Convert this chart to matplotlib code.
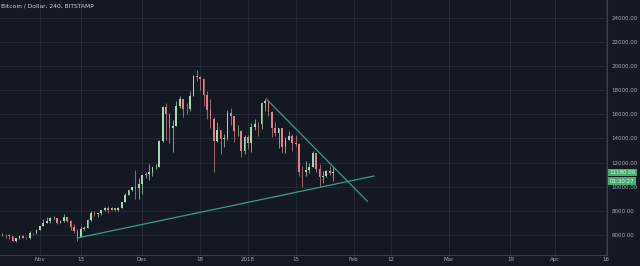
import matplotlib
matplotlib.use("Agg")
import matplotlib.pyplot as plt
import matplotlib.dates as mdates
from matplotlib.transforms import blended_transform_factory
import pandas as pd

# daily candles (Bitstamp BTC/USD)
dates = pd.date_range("2017-10-20", "2018-01-26", freq="D")
first_open = 5700
highs = [6070, 6190, 6060, 6070, 5910, 5770, 5970, 6000, 5860, 6300, 6200, 6470,
         6770, 7330, 7460, 7500, 7600, 7420, 7210, 7780, 7470, 7280, 6870, 6480,
         6740, 6720, 7330, 7970, 8000, 7860, 8100, 8300, 8370, 8300, 8260, 8350,
         8770, 9500, 9740, 10000, 11400, 10700,
         11000, 11200, 11850, 11620, 11900, 13850, 16700, 16950, 16100, 15500,
         17100, 17500, 17300, 16950, 17900, 19250, 19670, 19180, 19000, 17900,
         17300, 15800, 15400, 14700, 14400, 16400, 16500, 15850, 15150, 14700, 14300,
         14300, 15300, 15600, 15400, 17000, 17250, 17150, 16300, 15400, 14900,
         14900, 14100, 14600, 14400, 14300, 13600, 11700, 12100, 12000, 12950,
         12800, 11900, 11300, 11400, 11700, 11600]
lows = [5610, 5880, 5720, 5650, 5460, 5400, 5700, 5710, 5680, 5680, 6030, 6100,
        6380, 6730, 7000, 6990, 7300, 6950, 6960, 7060, 7070, 6450, 6180, 5500,
        5850, 6420, 6600, 7120, 7560, 7470, 7670, 7960, 7820, 8070, 8000, 8000,
        8200, 8740, 9300, 9650, 9000, 9000,
        9400, 10700, 10550, 10900, 11500, 11660, 13700, 13900, 13600, 12900,
        15000, 16500, 15800, 16000, 16300, 17500, 18800, 18000, 16700, 15600,
        14900, 11200, 13700, 12700, 13300, 13900, 15100, 13700, 14200, 12500, 12700,
        13100, 12900, 14700, 14200, 14800, 16300, 15900, 14100, 14200, 13200,
        12800, 12800, 13900, 13000, 13400, 10900, 10000, 10900, 11100, 11600,
        11200, 10100, 10300, 10800, 11000, 10500]
closes = [6010, 6010, 5980, 5900, 5520, 5740, 5890, 5770, 5720, 6150, 6130, 6450,
          6740, 7030, 7160, 7380, 7390, 6990, 7140, 7460, 7140, 6620, 6340, 5870,
          6530, 6600, 7280, 7840, 7700, 7790, 8040, 8200, 8070, 8250, 8090, 8250,
          8750, 9300, 9730, 9950, 9880, 10230,
          10970, 11090, 11240, 11610, 11660, 13750, 16600, 16000, 14840, 15060,
          16730, 17280, 16470, 16410, 17530, 19140, 19110, 18970, 17600, 16400,
          15630, 13830, 14700, 13920, 14030, 16100, 15840, 14600, 14650, 12950, 14160,
          13660, 14980, 15200, 15160, 16950, 17130, 16170, 14850, 14470, 14850,
          13300, 13900, 14200, 13600, 13540, 11250, 11200, 11400, 11600, 12800,
          11500, 10800, 10900, 11300, 11160, 11180]
opens = [first_open] + closes[:-1]

# drawn trend lines
support_dates = ["2017-11-12 00:00", "2018-02-07 00:00"]
support_prices = [5750, 10890]
resist_dates = ["2018-01-06 10:00", "2018-02-05 00:00"]
resist_prices = [17270, 8800]

price_ticks = [6000, 8000, 10000, 12000, 14000, 16000, 18000, 20000, 22000, 24000]
time_ticks = ["2017-11-01", "2017-11-13", "2017-12-01", "2017-12-18", "2018-01-01",
              "2018-01-15", "2018-02-01", "2018-02-12", "2018-03-01", "2018-03-19",
              "2018-04-01", "2018-04-16"]
time_labels = ["Nov", "13", "Dec", "18", "2018", "15", "Feb", "12", "Mar", "19", "Apr", "16"]

BG = "#141823"
UP = "#a3d8b0"
DOWN = "#e08389"
LINE = "#3b9c8c"
TXT = "#a9acb5"

fig = plt.figure(figsize=(6.4, 2.66), dpi=100)
fig.patch.set_facecolor(BG)
ax = fig.add_axes([0, 11 / 266, 607 / 640, 255 / 266])
ax.set_facecolor(BG)

xs = mdates.date2num(dates)
for x, o, h, l, c in zip(xs, opens, highs, lows, closes):
    col = UP if c >= o else DOWN
    ax.vlines(x, l, h, color=col, linewidth=0.5, zorder=3)
    ax.bar(x, abs(c - o) if c != o else 20, bottom=min(o, c), width=0.5,
           color=col, edgecolor="none", zorder=4)

ax.plot(mdates.date2num(pd.to_datetime(support_dates)), support_prices,
        color=LINE, linewidth=0.9, zorder=5)
ax.plot(mdates.date2num(pd.to_datetime(resist_dates)), resist_prices,
        color=LINE, linewidth=0.9, zorder=5)

nov1 = mdates.date2num(pd.Timestamp("2017-11-01"))
ax.set_xlim(nov1 - 11.7, nov1 + 166.3)
ax.set_ylim(4340, 25480)

ax.set_xticks(mdates.date2num(pd.to_datetime(time_ticks)))
ax.set_xticklabels(time_labels)
ax.yaxis.tick_right()
ax.set_yticks(price_ticks)
ax.set_yticklabels([f"{p:.2f}" for p in price_ticks])
ax.tick_params(axis="both", length=0, labelsize=4, colors=TXT)
ax.tick_params(axis="x", pad=1.5)
ax.tick_params(axis="y", pad=3)
ax.grid(True, color="#242935", linewidth=0.8, zorder=0)

for side in ["top", "left"]:
    ax.spines[side].set_visible(False)
for side in ["right", "bottom"]:
    ax.spines[side].set_color("#3a3f4b")
    ax.spines[side].set_linewidth(0.8)

ax.text(0.002, 0.985, "Bitcoin / Dollar, 240, BITSTAMP", transform=ax.transAxes,
        fontsize=4.3, color="#d1d4dc", va="top", ha="left")

trans = blended_transform_factory(ax.transAxes, ax.transData)
last = closes[-1]
ax.text(1.004, last, f"{last:.2f}", transform=trans, fontsize=4, color="#e8f5ec",
        va="center", ha="left", clip_on=False,
        bbox=dict(boxstyle="square,pad=0.25", fc="#44b06e", ec="none"))
ax.text(1.004, last - 720, "01:30:27", transform=trans, fontsize=4, color="#e8f5ec",
        va="center", ha="left", clip_on=False,
        bbox=dict(boxstyle="square,pad=0.25", fc="#44b06e", ec="none"))

fig.savefig("out.png", dpi=100, facecolor=BG)
